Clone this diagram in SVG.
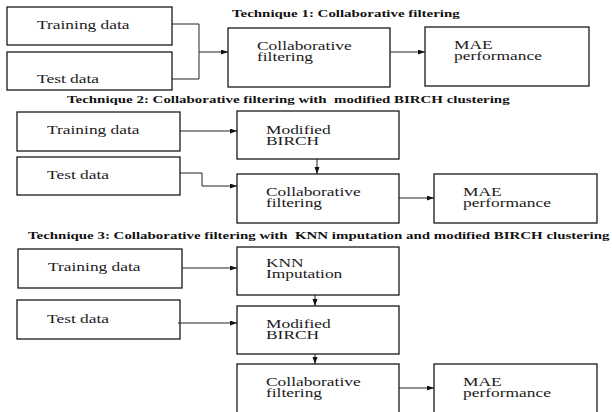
<svg xmlns="http://www.w3.org/2000/svg" width="612" height="412" viewBox="0 0 612 412">
<style>
.box{fill:#fff;stroke:#1a1a1a;stroke-width:1.3}
.lbl{font-family:'Liberation Serif','DejaVu Serif','Times New Roman',serif;font-size:12px;fill:#1a1a1a}
.ttl{font-family:'Liberation Serif','DejaVu Serif','Times New Roman',serif;font-size:9.5px;font-weight:bold;fill:#111}
.con{fill:none;stroke:#222;stroke-width:1}
</style>
<defs>
<marker id="ah" markerUnits="userSpaceOnUse" markerWidth="8" markerHeight="6" refX="7" refY="2.5" orient="auto">
<path d="M0,0 L7,2.5 L0,5 z" fill="#111"/>
</marker>
</defs>
<rect width="612" height="412" fill="#fff"/>

<g id="titles">
<text class="ttl" font-family="Liberation Serif, serif" xml:space="preserve" transform="translate(232 17) scale(1.57 1)">Technique 1: Collaborative filtering</text>
<text class="ttl" font-family="Liberation Serif, serif" xml:space="preserve" transform="translate(67 103) scale(1.57 1)">Technique 2: Collaborative filtering with  modified BIRCH clustering</text>
<text class="ttl" font-family="Liberation Serif, serif" xml:space="preserve" transform="translate(28 239) scale(1.57 1)">Technique 3: Collaborative filtering with  KNN imputation and modified BIRCH clustering</text>
</g>

<g id="t1-training">
<rect class="box" x="7" y="7" width="165" height="38"/>
<text class="lbl" transform="translate(37 29) scale(1.45 1)">Training data</text>
</g>
<g id="t1-test">
<rect class="box" x="7" y="52" width="165" height="38"/>
<text class="lbl" transform="translate(37 83) scale(1.45 1)">Test data</text>
</g>
<g id="t1-collab">
<rect class="box" x="228" y="28" width="162" height="59"/>
<text class="lbl" transform="translate(257 50) scale(1.45 1)">Collaborative</text>
<text class="lbl" transform="translate(257 61) scale(1.45 1)">filtering</text>
</g>
<g id="t1-mae">
<rect class="box" x="425" y="27" width="164" height="59"/>
<text class="lbl" transform="translate(454 49) scale(1.45 1)">MAE</text>
<text class="lbl" transform="translate(454 60) scale(1.45 1)">performance</text>
</g>

<g id="t2-training">
<rect class="box" x="17" y="112" width="163" height="39"/>
<text class="lbl" transform="translate(47 134) scale(1.45 1)">Training data</text>
</g>
<g id="t2-test">
<rect class="box" x="17" y="157" width="163" height="38"/>
<text class="lbl" transform="translate(47 179) scale(1.45 1)">Test data</text>
</g>
<g id="t2-birch">
<rect class="box" x="237" y="111" width="162" height="48"/>
<text class="lbl" transform="translate(266 134) scale(1.45 1)">Modified</text>
<text class="lbl" transform="translate(266 145) scale(1.45 1)">BIRCH</text>
</g>
<g id="t2-collab">
<rect class="box" x="237" y="174" width="162" height="49"/>
<text class="lbl" transform="translate(266 196) scale(1.45 1)">Collaborative</text>
<text class="lbl" transform="translate(266 207) scale(1.45 1)">filtering</text>
</g>
<g id="t2-mae">
<rect class="box" x="434" y="174" width="163" height="49"/>
<text class="lbl" transform="translate(463 196) scale(1.45 1)">MAE</text>
<text class="lbl" transform="translate(463 207) scale(1.45 1)">performance</text>
</g>

<g id="t3-training">
<rect class="box" x="18" y="249" width="164" height="39"/>
<text class="lbl" transform="translate(48 271) scale(1.45 1)">Training data</text>
</g>
<g id="t3-test">
<rect class="box" x="17" y="300" width="163" height="39"/>
<text class="lbl" transform="translate(47 323) scale(1.45 1)">Test data</text>
</g>
<g id="t3-knn">
<rect class="box" x="237" y="247" width="162" height="48"/>
<text class="lbl" transform="translate(266 267) scale(1.45 1)">KNN</text>
<text class="lbl" transform="translate(266 278) scale(1.45 1)">Imputation</text>
</g>
<g id="t3-birch">
<rect class="box" x="237" y="306" width="162" height="48"/>
<text class="lbl" transform="translate(266 328) scale(1.45 1)">Modified</text>
<text class="lbl" transform="translate(266 339) scale(1.45 1)">BIRCH</text>
</g>
<g id="t3-collab">
<rect class="box" x="237" y="364" width="162" height="60"/>
<text class="lbl" transform="translate(266 386) scale(1.45 1)">Collaborative</text>
<text class="lbl" transform="translate(266 397) scale(1.45 1)">filtering</text>
</g>
<g id="t3-mae">
<rect class="box" x="434" y="364" width="163" height="60"/>
<text class="lbl" transform="translate(463 386) scale(1.45 1)">MAE</text>
<text class="lbl" transform="translate(463 397) scale(1.45 1)">performance</text>
</g>

<g id="connectors">
<polyline class="con" points="172,24 199,24 199,79 172,79"/>
<line class="con" x1="199" y1="52" x2="228" y2="52" marker-end="url(#ah)"/>
<line class="con" x1="390" y1="52" x2="425" y2="52" marker-end="url(#ah)"/>

<line class="con" x1="180" y1="131" x2="237" y2="131" marker-end="url(#ah)"/>
<line class="con" x1="317" y1="159" x2="317" y2="174" marker-end="url(#ah)"/>
<polyline class="con" points="180,173 202,173 202,186 237,186" marker-end="url(#ah)"/>
<line class="con" x1="399" y1="198" x2="434" y2="198" marker-end="url(#ah)"/>

<line class="con" x1="182" y1="268" x2="237" y2="268" marker-end="url(#ah)"/>
<line class="con" x1="315" y1="295" x2="315" y2="306" marker-end="url(#ah)"/>
<line class="con" x1="178" y1="323" x2="237" y2="323" marker-end="url(#ah)"/>
<line class="con" x1="315" y1="354" x2="315" y2="364" marker-end="url(#ah)"/>
<line class="con" x1="399" y1="388" x2="434" y2="388" marker-end="url(#ah)"/>
</g>
</svg>
